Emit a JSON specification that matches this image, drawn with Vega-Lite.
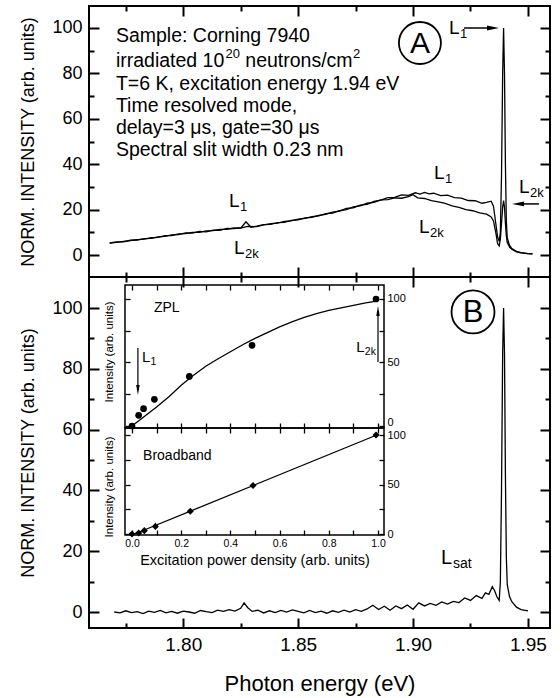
{
  "$schema": "https://vega.github.io/schema/vega-lite/v6.json",
  "padding": {"left": 18, "top": 4, "right": 5, "bottom": 5},
  "spacing": 0,
  "bounds": "flush",
  "config": {
    "font": "Liberation Sans",
    "view": {"stroke": "black", "strokeWidth": 2},
    "axis": {"domain": false, "grid": false, "tickColor": "black", "labelColor": "black", "titleColor": "black", "titleFontWeight": "normal", "labelOverlap": false, "labelFlush": false, "tickWidth": 2},
    "text": {"color": "black"}
  },
  "datasets": {
    "specA": [
      {"e":1.768,"v":5.3,"s":"L1"},{"e":1.771,"v":5.8,"s":"L1"},{"e":1.774,"v":5.8,"s":"L1"},{"e":1.777,"v":6.5,"s":"L1"},{"e":1.780,"v":6.6,"s":"L1"},{"e":1.783,"v":7.2,"s":"L1"},{"e":1.786,"v":7.3,"s":"L1"},{"e":1.789,"v":8.0,"s":"L1"},{"e":1.792,"v":8.2,"s":"L1"},{"e":1.795,"v":8.9,"s":"L1"},{"e":1.798,"v":9.0,"s":"L1"},{"e":1.801,"v":9.7,"s":"L1"},{"e":1.804,"v":9.6,"s":"L1"},{"e":1.807,"v":10.4,"s":"L1"},{"e":1.810,"v":10.2,"s":"L1"},{"e":1.813,"v":11.0,"s":"L1"},{"e":1.816,"v":10.9,"s":"L1"},{"e":1.819,"v":11.7,"s":"L1"},{"e":1.822,"v":11.6,"s":"L1"},{"e":1.8252,"v":12.0,"s":"L1"},{"e":1.8273,"v":14.6,"s":"L1"},{"e":1.8295,"v":12.2,"s":"L1"},{"e":1.832,"v":12.7,"s":"L1"},{"e":1.835,"v":13.4,"s":"L1"},{"e":1.838,"v":13.5,"s":"L1"},{"e":1.841,"v":14.3,"s":"L1"},{"e":1.844,"v":14.4,"s":"L1"},{"e":1.847,"v":15.3,"s":"L1"},{"e":1.850,"v":15.5,"s":"L1"},{"e":1.853,"v":16.4,"s":"L1"},{"e":1.856,"v":16.6,"s":"L1"},{"e":1.859,"v":17.5,"s":"L1"},{"e":1.862,"v":17.9,"s":"L1"},{"e":1.865,"v":18.9,"s":"L1"},{"e":1.868,"v":19.3,"s":"L1"},{"e":1.871,"v":20.5,"s":"L1"},{"e":1.874,"v":20.8,"s":"L1"},{"e":1.877,"v":22.0,"s":"L1"},{"e":1.880,"v":22.3,"s":"L1"},{"e":1.883,"v":23.6,"s":"L1"},{"e":1.886,"v":24.2,"s":"L1"},{"e":1.889,"v":25.3,"s":"L1"},{"e":1.892,"v":25.4,"s":"L1"},{"e":1.895,"v":26.5,"s":"L1"},{"e":1.898,"v":26.3,"s":"L1"},{"e":1.901,"v":27.4,"s":"L1"},{"e":1.903,"v":26.8,"s":"L1"},{"e":1.905,"v":27.6,"s":"L1"},{"e":1.907,"v":26.9,"s":"L1"},{"e":1.909,"v":27.2,"s":"L1"},{"e":1.912,"v":26.2,"s":"L1"},{"e":1.915,"v":26.4,"s":"L1"},{"e":1.918,"v":25.3,"s":"L1"},{"e":1.921,"v":25.1,"s":"L1"},{"e":1.924,"v":24.0,"s":"L1"},{"e":1.927,"v":23.9,"s":"L1"},{"e":1.930,"v":22.8,"s":"L1"},{"e":1.932,"v":23.2,"s":"L1"},{"e":1.934,"v":23.7,"s":"L1"},{"e":1.935,"v":21.5,"s":"L1"},{"e":1.936,"v":14.0,"s":"L1"},{"e":1.9368,"v":8.0,"s":"L1"},{"e":1.9375,"v":6.0,"s":"L1"},{"e":1.938,"v":10,"s":"L1"},{"e":1.9385,"v":35,"s":"L1"},{"e":1.939,"v":80,"s":"L1"},{"e":1.9394,"v":100,"s":"L1"},{"e":1.9398,"v":80,"s":"L1"},{"e":1.9402,"v":40,"s":"L1"},{"e":1.9406,"v":15,"s":"L1"},{"e":1.941,"v":7.5,"s":"L1"},{"e":1.942,"v":4.2,"s":"L1"},{"e":1.943,"v":2.8,"s":"L1"},{"e":1.945,"v":1.6,"s":"L1"},{"e":1.947,"v":1.0,"s":"L1"},{"e":1.950,"v":0.6,"s":"L1"},{"e":1.952,"v":0.5,"s":"L1"},
      {"e":1.768,"v":5.2,"s":"L2k"},{"e":1.771,"v":5.6,"s":"L2k"},{"e":1.774,"v":6.0,"s":"L2k"},{"e":1.777,"v":6.3,"s":"L2k"},{"e":1.780,"v":6.8,"s":"L2k"},{"e":1.783,"v":7.0,"s":"L2k"},{"e":1.786,"v":7.6,"s":"L2k"},{"e":1.789,"v":7.8,"s":"L2k"},{"e":1.792,"v":8.5,"s":"L2k"},{"e":1.795,"v":8.6,"s":"L2k"},{"e":1.798,"v":9.3,"s":"L2k"},{"e":1.801,"v":9.4,"s":"L2k"},{"e":1.804,"v":10.0,"s":"L2k"},{"e":1.807,"v":10.0,"s":"L2k"},{"e":1.810,"v":10.6,"s":"L2k"},{"e":1.813,"v":10.7,"s":"L2k"},{"e":1.816,"v":11.3,"s":"L2k"},{"e":1.819,"v":11.3,"s":"L2k"},{"e":1.822,"v":11.9,"s":"L2k"},{"e":1.825,"v":11.8,"s":"L2k"},{"e":1.828,"v":12.6,"s":"L2k"},{"e":1.832,"v":12.5,"s":"L2k"},{"e":1.835,"v":13.3,"s":"L2k"},{"e":1.838,"v":13.8,"s":"L2k"},{"e":1.841,"v":14.0,"s":"L2k"},{"e":1.844,"v":14.8,"s":"L2k"},{"e":1.847,"v":15.0,"s":"L2k"},{"e":1.850,"v":15.8,"s":"L2k"},{"e":1.853,"v":16.1,"s":"L2k"},{"e":1.856,"v":16.9,"s":"L2k"},{"e":1.859,"v":17.2,"s":"L2k"},{"e":1.862,"v":18.2,"s":"L2k"},{"e":1.865,"v":18.5,"s":"L2k"},{"e":1.868,"v":19.5,"s":"L2k"},{"e":1.871,"v":20.0,"s":"L2k"},{"e":1.874,"v":21.2,"s":"L2k"},{"e":1.877,"v":21.6,"s":"L2k"},{"e":1.880,"v":22.8,"s":"L2k"},{"e":1.883,"v":23.2,"s":"L2k"},{"e":1.886,"v":24.3,"s":"L2k"},{"e":1.889,"v":24.4,"s":"L2k"},{"e":1.892,"v":25.2,"s":"L2k"},{"e":1.895,"v":25.0,"s":"L2k"},{"e":1.898,"v":25.7,"s":"L2k"},{"e":1.900,"v":26.6,"s":"L2k"},{"e":1.902,"v":25.2,"s":"L2k"},{"e":1.905,"v":24.9,"s":"L2k"},{"e":1.908,"v":24.0,"s":"L2k"},{"e":1.911,"v":23.4,"s":"L2k"},{"e":1.914,"v":22.7,"s":"L2k"},{"e":1.917,"v":21.6,"s":"L2k"},{"e":1.920,"v":21.0,"s":"L2k"},{"e":1.923,"v":20.0,"s":"L2k"},{"e":1.926,"v":19.5,"s":"L2k"},{"e":1.929,"v":18.6,"s":"L2k"},{"e":1.932,"v":18.0,"s":"L2k"},{"e":1.934,"v":16.8,"s":"L2k"},{"e":1.935,"v":15.0,"s":"L2k"},{"e":1.936,"v":10.0,"s":"L2k"},{"e":1.9368,"v":5.0,"s":"L2k"},{"e":1.9375,"v":4.0,"s":"L2k"},{"e":1.938,"v":7,"s":"L2k"},{"e":1.9385,"v":14,"s":"L2k"},{"e":1.939,"v":21,"s":"L2k"},{"e":1.9394,"v":24,"s":"L2k"},{"e":1.9398,"v":21,"s":"L2k"},{"e":1.9402,"v":14,"s":"L2k"},{"e":1.9406,"v":8.5,"s":"L2k"},{"e":1.941,"v":5.5,"s":"L2k"},{"e":1.942,"v":3.5,"s":"L2k"},{"e":1.943,"v":2.5,"s":"L2k"},{"e":1.945,"v":1.4,"s":"L2k"},{"e":1.947,"v":0.9,"s":"L2k"},{"e":1.950,"v":0.6,"s":"L2k"},{"e":1.952,"v":0.5,"s":"L2k"}
    ],
    "specB": [
      {"e":1.770,"v":0.0},{"e":1.7725,"v":-0.3},{"e":1.775,"v":0.4},{"e":1.7775,"v":-0.2},{"e":1.780,"v":0.1},{"e":1.7825,"v":-0.5},{"e":1.785,"v":0.3},{"e":1.7875,"v":-0.1},{"e":1.790,"v":0.5},{"e":1.7925,"v":-0.3},{"e":1.795,"v":0.2},{"e":1.7975,"v":-0.4},{"e":1.800,"v":0.3},{"e":1.8025,"v":0.0},{"e":1.805,"v":-0.4},{"e":1.8075,"v":0.5},{"e":1.810,"v":0.1},{"e":1.8125,"v":-0.2},{"e":1.815,"v":0.6},{"e":1.8175,"v":0.2},{"e":1.820,"v":0.8},{"e":1.8225,"v":0.3},{"e":1.825,"v":1.2},{"e":1.8265,"v":3.0},{"e":1.828,"v":1.5},{"e":1.830,"v":0.2},{"e":1.8325,"v":0.6},{"e":1.835,"v":-0.3},{"e":1.8375,"v":0.4},{"e":1.840,"v":-0.2},{"e":1.8425,"v":0.5},{"e":1.845,"v":0.0},{"e":1.8475,"v":0.7},{"e":1.850,"v":0.2},{"e":1.8525,"v":-0.3},{"e":1.855,"v":0.5},{"e":1.8575,"v":-0.2},{"e":1.860,"v":0.3},{"e":1.8625,"v":-0.4},{"e":1.865,"v":0.4},{"e":1.8675,"v":-0.1},{"e":1.870,"v":0.6},{"e":1.8725,"v":0.0},{"e":1.875,"v":0.8},{"e":1.8775,"v":0.2},{"e":1.880,"v":1.0},{"e":1.8825,"v":2.2},{"e":1.885,"v":0.8},{"e":1.8875,"v":1.9},{"e":1.890,"v":0.6},{"e":1.8925,"v":2.0},{"e":1.895,"v":1.1},{"e":1.8975,"v":2.3},{"e":1.900,"v":0.9},{"e":1.9025,"v":3.0},{"e":1.905,"v":2.0},{"e":1.9075,"v":2.8},{"e":1.910,"v":2.2},{"e":1.9125,"v":3.3},{"e":1.915,"v":2.6},{"e":1.9175,"v":3.5},{"e":1.920,"v":3.1},{"e":1.9225,"v":4.6},{"e":1.925,"v":3.8},{"e":1.9275,"v":5.4},{"e":1.930,"v":4.5},{"e":1.9315,"v":6.3},{"e":1.933,"v":5.8},{"e":1.9345,"v":8.3},{"e":1.9355,"v":7.0},{"e":1.9365,"v":5.0},{"e":1.9375,"v":3.8},{"e":1.938,"v":10},{"e":1.9385,"v":40},{"e":1.939,"v":85},{"e":1.9394,"v":100},{"e":1.9398,"v":85},{"e":1.9402,"v":45},{"e":1.9406,"v":18},{"e":1.941,"v":9},{"e":1.942,"v":5},{"e":1.943,"v":3.4},{"e":1.945,"v":1.6},{"e":1.947,"v":0.8},{"e":1.950,"v":0.4}
    ],
    "infoA": [
      {"x":1.7707,"y":96.5,"t":"Sample: Corning 7940"},
      {"x":1.7707,"y":85.5,"t":"irradiated 10"},
      {"x":1.82702,"y":85.5,"t":"neutrons/cm"},
      {"x":1.7707,"y":75.3,"t":"T=6 K,  excitation energy 1.94 eV"},
      {"x":1.7707,"y":65.6,"t":"Time resolved mode,"},
      {"x":1.7707,"y":55.9,"t":"delay=3 μs, gate=30 μs"},
      {"x":1.7707,"y":46.3,"t":"Spectral slit width 0.23 nm"}
    ],
    "supA": [
      {"x":1.81836,"y":85.5,"t":"20"},
      {"x":1.87388,"y":85.5,"t":"2"}
    ],
    "labA": [
      {"x":1.9157,"y":99.8,"sub":"1"},{"x":1.9091,"y":36.1,"sub":"1"},{"x":1.9026,"y":12.3,"sub":"2k"},
      {"x":1.8199,"y":23.8,"sub":"1"},{"x":1.8221,"y":3.1,"sub":"2k"},{"x":1.9461,"y":30.0,"sub":"2k"}
    ],
    "arrA": [{"x":1.9222,"x2":1.9348,"y":100,"y2":100},{"x":1.9457,"x2":1.9548,"y":22.5,"y2":22.5}],
    "headRA": [{"x":1.9348,"y":100}],
    "headLA": [{"x":1.9457,"y":22.5}],
    "circA": [{"x":1.9030,"y":93.4,"t":"A"}],
    "labB": [{"x":1.9122,"y":17.8,"sub":"sat"}],
    "circB": [{"x":1.9261,"y":98.7,"t":"B"}],
    "zpl": [{"p":0.0,"v":0.0},{"p":0.027,"v":8.4},{"p":0.047,"v":13.6},{"p":0.091,"v":21},{"p":0.233,"v":39},{"p":0.488,"v":63.5},{"p":0.992,"v":100}],
    "zplfit": [{"p":0.0,"v":0.0},{"p":0.05,"v":7.5},{"p":0.1,"v":15},{"p":0.15,"v":23},{"p":0.2,"v":32},{"p":0.25,"v":40},{"p":0.3,"v":47},{"p":0.35,"v":53},{"p":0.4,"v":58.5},{"p":0.45,"v":64},{"p":0.5,"v":69},{"p":0.55,"v":73.5},{"p":0.6,"v":78},{"p":0.65,"v":82},{"p":0.7,"v":85.5},{"p":0.75,"v":88.5},{"p":0.8,"v":91},{"p":0.85,"v":93},{"p":0.9,"v":95},{"p":0.95,"v":97},{"p":1.0,"v":98.5}],
    "bb": [{"p":0.0,"v":0.0},{"p":0.027,"v":1.0},{"p":0.05,"v":3.4},{"p":0.095,"v":7.7},{"p":0.237,"v":23},{"p":0.492,"v":49},{"p":0.992,"v":100}],
    "bbfit": [{"p":0.0,"v":-1.0},{"p":1.0,"v":100.5}],
    "frameZ": [{"x":-0.0285,"x2":1.0244,"y":-1.57,"y2":111.0}],
    "frameB": [{"x":-0.0285,"x2":1.0244,"y":-1.01,"y2":107.07}],
    "txtZ": [{"x":0.089,"y":92.9,"t":"ZPL"}],
    "labZ": [{"x":0.041,"y":54.3,"sub":"1"},{"x":0.912,"y":62.2,"sub":"2k"}],
    "titZ": [{"x":-0.089,"y":58.3,"t":"Intensity (arb. units)"}],
    "txtB": [{"x":0.045,"y":78.8,"t":"Broadband"}],
    "titB": [{"x":-0.089,"y":47.5,"t":"Intensity (arb. units)"}],
    "xtitB": [{"x":0.5,"y":-27.3,"t":"Excitation power density (arb. units)"}],
    "arrZ": [{"x":0.024,"x2":0.024,"y":61.4,"y2":28.3},{"x":1.0,"x2":1.0,"y":50.4,"y2":90.6}],
    "headDZ": [{"x":0.024,"y":28.3}],
    "headUZ": [{"x":1.0,"y":90.6}]
  },
  "vconcat": [
    {
      "width": 461,
      "height": 271,
      "resolve": {"axis": {"x": "independent", "y": "independent"}},
      "layer": [
        {
          "data": {"name": "specA"},
          "mark": {"type": "line", "color": "black", "strokeWidth": 1.3},
          "encoding": {
            "x": {"field": "e", "type": "quantitative", "scale": {"domain": [1.759, 1.9596], "nice": false, "zero": false},
                  "axis": {"orient": "bottom", "values": [1.775,1.8,1.825,1.85,1.875,1.9,1.925,1.95], "labels": false, "title": null,
                           "tickSize": {"condition": {"test": "round(datum.value*1000) % 50 === 0", "value": -10}, "value": -5}}},
            "y": {"field": "v", "type": "quantitative", "scale": {"domain": [-9.69, 109.69], "nice": false, "zero": false},
                  "axis": {"orient": "left", "values": [0,10,20,30,40,50,60,70,80,90,100], "labelExpr": "datum.value % 20 === 0 ? datum.label : ''",
                           "labelFontSize": 18, "labelPadding": 17, "title": "NORM. INTENSITY (arb. units)", "titleFontSize": 18, "titlePadding": 14,
                           "tickSize": {"condition": {"test": "datum.value % 20 === 0", "value": -10}, "value": -5}}},
            "detail": {"field": "s"}
          }
        },
        {
          "data": {"name": "infoA"},
          "mark": {"type": "text", "align": "left", "baseline": "middle", "fontSize": 19.5},
          "encoding": {
            "x": {"field": "x", "type": "quantitative", "scale": {"domain": [1.759, 1.9596], "nice": false, "zero": false},
                  "axis": {"orient": "top", "values": [1.775,1.8,1.825,1.85,1.875,1.9,1.925,1.95], "labels": false, "title": null,
                           "tickSize": {"condition": {"test": "round(datum.value*1000) % 50 === 0", "value": -10}, "value": -5}}},
            "y": {"field": "y", "type": "quantitative", "scale": {"domain": [-9.69, 109.69], "nice": false, "zero": false},
                  "axis": {"orient": "right", "values": [0,10,20,30,40,50,60,70,80,90,100], "labels": false, "title": null,
                           "tickSize": {"condition": {"test": "datum.value % 20 === 0", "value": -10}, "value": -5}}},
            "text": {"field": "t"}
          }
        },
        {
          "data": {"name": "supA"},
          "mark": {"type": "text", "align": "left", "baseline": "middle", "fontSize": 13, "dy": -7},
          "encoding": {
            "x": {"field": "x", "type": "quantitative", "scale": {"domain": [1.759, 1.9596], "nice": false, "zero": false}, "axis": null},
            "y": {"field": "y", "type": "quantitative", "scale": {"domain": [-9.69, 109.69], "nice": false, "zero": false}, "axis": null},
            "text": {"field": "t"}
          }
        },
        {
          "data": {"name": "labA"},
          "mark": {"type": "text", "align": "left", "baseline": "middle", "fontSize": 19},
          "encoding": {
            "x": {"field": "x", "type": "quantitative", "scale": {"domain": [1.759, 1.9596], "nice": false, "zero": false}, "axis": null},
            "y": {"field": "y", "type": "quantitative", "scale": {"domain": [-9.69, 109.69], "nice": false, "zero": false}, "axis": null},
            "text": {"value": "L"}
          }
        },
        {
          "data": {"name": "labA"},
          "mark": {"type": "text", "align": "left", "baseline": "middle", "fontSize": 13, "dx": 11, "dy": 6},
          "encoding": {
            "x": {"field": "x", "type": "quantitative", "scale": {"domain": [1.759, 1.9596], "nice": false, "zero": false}, "axis": null},
            "y": {"field": "y", "type": "quantitative", "scale": {"domain": [-9.69, 109.69], "nice": false, "zero": false}, "axis": null},
            "text": {"field": "sub"}
          }
        },
        {
          "data": {"name": "arrA"},
          "mark": {"type": "rule", "color": "black", "strokeWidth": 1.5},
          "encoding": {
            "x": {"field": "x", "type": "quantitative", "scale": {"domain": [1.759, 1.9596], "nice": false, "zero": false}, "axis": null},
            "x2": {"field": "x2"},
            "y": {"field": "y", "type": "quantitative", "scale": {"domain": [-9.69, 109.69], "nice": false, "zero": false}, "axis": null},
            "y2": {"field": "y2"}
          }
        },
        {
          "data": {"name": "headRA"},
          "mark": {"type": "point", "shape": "M-1,-0.4L1,0L-1,0.4Z", "size": 144, "filled": true, "color": "black", "opacity": 1},
          "encoding": {
            "x": {"field": "x", "type": "quantitative", "scale": {"domain": [1.759, 1.9596], "nice": false, "zero": false}, "axis": null},
            "y": {"field": "y", "type": "quantitative", "scale": {"domain": [-9.69, 109.69], "nice": false, "zero": false}, "axis": null}
          }
        },
        {
          "data": {"name": "headLA"},
          "mark": {"type": "point", "shape": "M1,-0.4L-1,0L1,0.4Z", "size": 144, "filled": true, "color": "black", "opacity": 1},
          "encoding": {
            "x": {"field": "x", "type": "quantitative", "scale": {"domain": [1.759, 1.9596], "nice": false, "zero": false}, "axis": null},
            "y": {"field": "y", "type": "quantitative", "scale": {"domain": [-9.69, 109.69], "nice": false, "zero": false}, "axis": null}
          }
        },
        {
          "data": {"name": "circA"},
          "mark": {"type": "point", "shape": "circle", "size": 1764, "filled": false, "stroke": "black", "strokeWidth": 1.8, "opacity": 1},
          "encoding": {
            "x": {"field": "x", "type": "quantitative", "scale": {"domain": [1.759, 1.9596], "nice": false, "zero": false}, "axis": null},
            "y": {"field": "y", "type": "quantitative", "scale": {"domain": [-9.69, 109.69], "nice": false, "zero": false}, "axis": null}
          }
        },
        {
          "data": {"name": "circA"},
          "mark": {"type": "text", "align": "center", "baseline": "middle", "fontSize": 30, "dy": 1},
          "encoding": {
            "x": {"field": "x", "type": "quantitative", "scale": {"domain": [1.759, 1.9596], "nice": false, "zero": false}, "axis": null},
            "y": {"field": "y", "type": "quantitative", "scale": {"domain": [-9.69, 109.69], "nice": false, "zero": false}, "axis": null},
            "text": {"field": "t"}
          }
        }
      ]
    },
    {
      "width": 461,
      "height": 351,
      "resolve": {"scale": {"x": "independent", "y": "independent"}},
      "layer": [
        {
          "data": {"name": "specB"},
          "mark": {"type": "line", "color": "black", "strokeWidth": 1.3},
          "encoding": {
            "x": {"field": "e", "type": "quantitative", "scale": {"domain": [1.759, 1.9596], "nice": false, "zero": false},
                  "axis": {"orient": "bottom", "values": [1.775,1.8,1.825,1.85,1.875,1.9,1.925,1.95],
                           "labelExpr": "round(datum.value*1000) % 50 === 0 ? format(datum.value, '.2f') : ''",
                           "labelFontSize": 19, "labelPadding": 17, "title": "Photon energy (eV)", "titleFontSize": 22, "titlePadding": 14,
                           "tickSize": {"condition": {"test": "round(datum.value*1000) % 50 === 0", "value": -10}, "value": -5}}},
            "y": {"field": "v", "type": "quantitative", "scale": {"domain": [-5.26, 110.2], "nice": false, "zero": false},
                  "axis": {"orient": "left", "values": [0,10,20,30,40,50,60,70,80,90,100], "labelExpr": "datum.value % 20 === 0 ? datum.label : ''",
                           "labelFontSize": 18, "labelPadding": 17, "title": "NORM. INTENSITY (arb. units)", "titleFontSize": 18, "titlePadding": 14,
                           "tickSize": {"condition": {"test": "datum.value % 20 === 0", "value": -10}, "value": -5}}}
          }
        },
        {
          "data": {"name": "labB"},
          "mark": {"type": "text", "align": "left", "baseline": "middle", "fontSize": 20},
          "encoding": {
            "x": {"field": "x", "type": "quantitative", "scale": {"domain": [1.759, 1.9596], "nice": false, "zero": false},
                  "axis": {"orient": "top", "values": [1.775,1.8,1.825,1.85,1.875,1.9,1.925,1.95], "labels": false, "title": null,
                           "tickSize": {"condition": {"test": "round(datum.value*1000) % 50 === 0", "value": -10}, "value": -5}}},
            "y": {"field": "y", "type": "quantitative", "scale": {"domain": [-5.26, 110.2], "nice": false, "zero": false},
                  "axis": {"orient": "right", "values": [0,10,20,30,40,50,60,70,80,90,100], "labels": false, "title": null,
                           "tickSize": {"condition": {"test": "datum.value % 20 === 0", "value": -10}, "value": -5}}},
            "text": {"value": "L"}
          }
        },
        {
          "data": {"name": "labB"},
          "mark": {"type": "text", "align": "left", "baseline": "middle", "fontSize": 14, "dx": 12, "dy": 6},
          "encoding": {
            "x": {"field": "x", "type": "quantitative", "scale": {"domain": [1.759, 1.9596], "nice": false, "zero": false}, "axis": null},
            "y": {"field": "y", "type": "quantitative", "scale": {"domain": [-5.26, 110.2], "nice": false, "zero": false}, "axis": null},
            "text": {"field": "sub"}
          }
        },
        {
          "data": {"name": "circB"},
          "mark": {"type": "point", "shape": "circle", "size": 1849, "filled": false, "stroke": "black", "strokeWidth": 1.8, "opacity": 1},
          "encoding": {
            "x": {"field": "x", "type": "quantitative", "scale": {"domain": [1.759, 1.9596], "nice": false, "zero": false}, "axis": null},
            "y": {"field": "y", "type": "quantitative", "scale": {"domain": [-5.26, 110.2], "nice": false, "zero": false}, "axis": null}
          }
        },
        {
          "data": {"name": "circB"},
          "mark": {"type": "text", "align": "center", "baseline": "middle", "fontSize": 31, "dy": 1},
          "encoding": {
            "x": {"field": "x", "type": "quantitative", "scale": {"domain": [1.759, 1.9596], "nice": false, "zero": false}, "axis": null},
            "y": {"field": "y", "type": "quantitative", "scale": {"domain": [-5.26, 110.2], "nice": false, "zero": false}, "axis": null},
            "text": {"field": "t"}
          }
        },
        {
          "data": {"name": "frameZ"},
          "mark": {"type": "rect", "fill": null, "stroke": "black", "strokeWidth": 1.5},
          "encoding": {
            "x": {"field": "x", "type": "quantitative", "scale": {"domain": [-0.1748, 1.6992], "nice": false, "zero": false}, "axis": null},
            "x2": {"field": "x2"},
            "y": {"field": "y", "type": "quantitative", "scale": {"domain": [-159.06, 117.32], "nice": false, "zero": false}, "axis": null},
            "y2": {"field": "y2"}
          }
        },
        {
          "data": {"name": "frameB"},
          "mark": {"type": "rect", "fill": null, "stroke": "black", "strokeWidth": 1.5},
          "encoding": {
            "x": {"field": "x", "type": "quantitative", "scale": {"domain": [-0.1748, 1.6992], "nice": false, "zero": false}, "axis": null},
            "x2": {"field": "x2"},
            "y": {"field": "y", "type": "quantitative", "scale": {"domain": [-94.95, 259.6], "nice": false, "zero": false}, "axis": null},
            "y2": {"field": "y2"}
          }
        },
        {
          "data": {"name": "zplfit"},
          "mark": {"type": "line", "color": "black", "strokeWidth": 1.3},
          "encoding": {
            "x": {"field": "p", "type": "quantitative", "scale": {"domain": [-0.1748, 1.6992], "nice": false, "zero": false},
                  "axis": {"orient": "bottom", "offset": -200, "values": [0,0.1,0.2,0.3,0.4,0.5,0.6,0.7,0.8,0.9,1], "labels": false, "title": null, "tickSize": -5, "tickWidth": 1.3}},
            "y": {"field": "v", "type": "quantitative", "scale": {"domain": [-159.06, 117.32], "nice": false, "zero": false},
                  "axis": {"orient": "left", "offset": -36, "values": [0,25,50,75,100], "labels": false, "title": null, "tickSize": -5, "tickWidth": 1.3}}
          }
        },
        {
          "data": {"name": "zpl"},
          "mark": {"type": "point", "shape": "circle", "size": 45, "filled": true, "color": "black", "opacity": 1},
          "encoding": {
            "x": {"field": "p", "type": "quantitative", "scale": {"domain": [-0.1748, 1.6992], "nice": false, "zero": false},
                  "axis": {"orient": "top", "offset": -8, "values": [0,0.1,0.2,0.3,0.4,0.5,0.6,0.7,0.8,0.9,1], "labels": false, "title": null, "tickSize": -5, "tickWidth": 1.3}},
            "y": {"field": "v", "type": "quantitative", "scale": {"domain": [-159.06, 117.32], "nice": false, "zero": false},
                  "axis": {"orient": "right", "offset": -166, "values": [0,25,50,75,100], "labelExpr": "datum.value % 50 === 0 ? datum.label : ''",
                           "labelBaseline": {"condition": {"test": "datum.value === 0", "value": "alphabetic"}, "value": "middle"},
                           "labelFontSize": 11, "labelPadding": 8, "title": null, "tickSize": -5, "tickWidth": 1.3}}
          }
        },
        {
          "data": {"name": "bbfit"},
          "mark": {"type": "line", "color": "black", "strokeWidth": 1.3},
          "encoding": {
            "x": {"field": "p", "type": "quantitative", "scale": {"domain": [-0.1748, 1.6992], "nice": false, "zero": false},
                  "axis": {"orient": "bottom", "offset": -93, "values": [0,0.1,0.2,0.3,0.4,0.5,0.6,0.7,0.8,0.9,1],
                           "labelExpr": "round(datum.value*10) % 2 === 0 ? format(datum.value, '.1f') : ''",
                           "labelFontSize": 10.5, "labelPadding": 8, "title": null, "tickSize": -5, "tickWidth": 1.3}},
            "y": {"field": "v", "type": "quantitative", "scale": {"domain": [-94.95, 259.6], "nice": false, "zero": false},
                  "axis": {"orient": "left", "offset": -36, "values": [0,25,50,75,100], "labels": false, "title": null, "tickSize": -5, "tickWidth": 1.3}}
          }
        },
        {
          "data": {"name": "bb"},
          "mark": {"type": "point", "shape": "diamond", "size": 50, "filled": true, "color": "black", "opacity": 1},
          "encoding": {
            "x": {"field": "p", "type": "quantitative", "scale": {"domain": [-0.1748, 1.6992], "nice": false, "zero": false},
                  "axis": {"orient": "top", "offset": -151, "values": [0,0.1,0.2,0.3,0.4,0.5,0.6,0.7,0.8,0.9,1], "labels": false, "title": null, "tickSize": -5, "tickWidth": 1.3}},
            "y": {"field": "v", "type": "quantitative", "scale": {"domain": [-94.95, 259.6], "nice": false, "zero": false},
                  "axis": {"orient": "right", "offset": -166, "values": [0,25,50,75,100], "labelExpr": "datum.value % 50 === 0 ? datum.label : ''",
                           "labelFontSize": 11, "labelPadding": 8, "title": null, "tickSize": -5, "tickWidth": 1.3}}
          }
        },
        {
          "data": {"name": "txtZ"},
          "mark": {"type": "text", "align": "left", "baseline": "middle", "fontSize": 14},
          "encoding": {
            "x": {"field": "x", "type": "quantitative", "scale": {"domain": [-0.1748, 1.6992], "nice": false, "zero": false}, "axis": null},
            "y": {"field": "y", "type": "quantitative", "scale": {"domain": [-159.06, 117.32], "nice": false, "zero": false}, "axis": null},
            "text": {"field": "t"}
          }
        },
        {
          "data": {"name": "labZ"},
          "mark": {"type": "text", "align": "left", "baseline": "middle", "fontSize": 15},
          "encoding": {
            "x": {"field": "x", "type": "quantitative", "scale": {"domain": [-0.1748, 1.6992], "nice": false, "zero": false}, "axis": null},
            "y": {"field": "y", "type": "quantitative", "scale": {"domain": [-159.06, 117.32], "nice": false, "zero": false}, "axis": null},
            "text": {"value": "L"}
          }
        },
        {
          "data": {"name": "labZ"},
          "mark": {"type": "text", "align": "left", "baseline": "middle", "fontSize": 10.5, "dx": 8.5, "dy": 5},
          "encoding": {
            "x": {"field": "x", "type": "quantitative", "scale": {"domain": [-0.1748, 1.6992], "nice": false, "zero": false}, "axis": null},
            "y": {"field": "y", "type": "quantitative", "scale": {"domain": [-159.06, 117.32], "nice": false, "zero": false}, "axis": null},
            "text": {"field": "sub"}
          }
        },
        {
          "data": {"name": "titZ"},
          "mark": {"type": "text", "align": "center", "baseline": "middle", "fontSize": 11.5, "angle": 270},
          "encoding": {
            "x": {"field": "x", "type": "quantitative", "scale": {"domain": [-0.1748, 1.6992], "nice": false, "zero": false}, "axis": null},
            "y": {"field": "y", "type": "quantitative", "scale": {"domain": [-159.06, 117.32], "nice": false, "zero": false}, "axis": null},
            "text": {"field": "t"}
          }
        },
        {
          "data": {"name": "arrZ"},
          "mark": {"type": "rule", "color": "black", "strokeWidth": 1.2},
          "encoding": {
            "x": {"field": "x", "type": "quantitative", "scale": {"domain": [-0.1748, 1.6992], "nice": false, "zero": false}, "axis": null},
            "x2": {"field": "x2"},
            "y": {"field": "y", "type": "quantitative", "scale": {"domain": [-159.06, 117.32], "nice": false, "zero": false}, "axis": null},
            "y2": {"field": "y2"}
          }
        },
        {
          "data": {"name": "headDZ"},
          "mark": {"type": "point", "shape": "M-0.35,-1L0,1L0.35,-1Z", "size": 100, "filled": true, "color": "black", "opacity": 1},
          "encoding": {
            "x": {"field": "x", "type": "quantitative", "scale": {"domain": [-0.1748, 1.6992], "nice": false, "zero": false}, "axis": null},
            "y": {"field": "y", "type": "quantitative", "scale": {"domain": [-159.06, 117.32], "nice": false, "zero": false}, "axis": null}
          }
        },
        {
          "data": {"name": "headUZ"},
          "mark": {"type": "point", "shape": "M-0.35,1L0,-1L0.35,1Z", "size": 100, "filled": true, "color": "black", "opacity": 1},
          "encoding": {
            "x": {"field": "x", "type": "quantitative", "scale": {"domain": [-0.1748, 1.6992], "nice": false, "zero": false}, "axis": null},
            "y": {"field": "y", "type": "quantitative", "scale": {"domain": [-159.06, 117.32], "nice": false, "zero": false}, "axis": null}
          }
        },
        {
          "data": {"name": "txtB"},
          "mark": {"type": "text", "align": "left", "baseline": "middle", "fontSize": 14},
          "encoding": {
            "x": {"field": "x", "type": "quantitative", "scale": {"domain": [-0.1748, 1.6992], "nice": false, "zero": false}, "axis": null},
            "y": {"field": "y", "type": "quantitative", "scale": {"domain": [-94.95, 259.6], "nice": false, "zero": false}, "axis": null},
            "text": {"field": "t"}
          }
        },
        {
          "data": {"name": "titB"},
          "mark": {"type": "text", "align": "center", "baseline": "middle", "fontSize": 11.5, "angle": 270},
          "encoding": {
            "x": {"field": "x", "type": "quantitative", "scale": {"domain": [-0.1748, 1.6992], "nice": false, "zero": false}, "axis": null},
            "y": {"field": "y", "type": "quantitative", "scale": {"domain": [-94.95, 259.6], "nice": false, "zero": false}, "axis": null},
            "text": {"field": "t"}
          }
        },
        {
          "data": {"name": "xtitB"},
          "mark": {"type": "text", "align": "center", "baseline": "middle", "fontSize": 14.5},
          "encoding": {
            "x": {"field": "x", "type": "quantitative", "scale": {"domain": [-0.1748, 1.6992], "nice": false, "zero": false}, "axis": null},
            "y": {"field": "y", "type": "quantitative", "scale": {"domain": [-94.95, 259.6], "nice": false, "zero": false}, "axis": null},
            "text": {"field": "t"}
          }
        }
      ]
    }
  ]
}
